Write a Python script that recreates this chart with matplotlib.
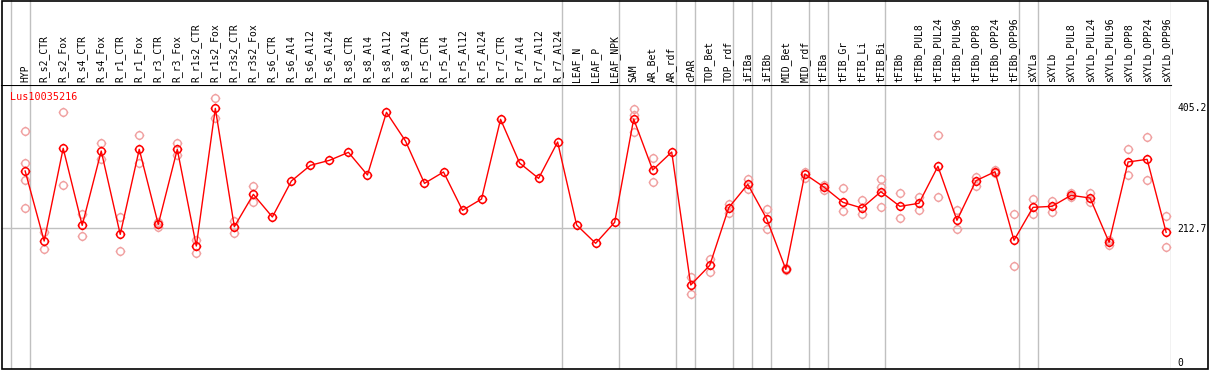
import numpy as np
import matplotlib
matplotlib.use("Agg")
import matplotlib.pyplot as plt
from matplotlib.path import Path
from matplotlib.patches import Rectangle

labels = ["HYP", "R_s2_CTR", "R_s2_Fox", "R_s4_CTR", "R_s4_Fox", "R_r1_CTR", "R_r1_Fox",
          "R_r3_CTR", "R_r3_Fox", "R_r1s2_CTR", "R_r1s2_Fox", "R_r3s2_CTR", "R_r3s2_Fox",
          "R_s6_CTR", "R_s6_Al4", "R_s6_Al12", "R_s6_Al24", "R_s8_CTR", "R_s8_Al4",
          "R_s8_Al12", "R_s8_Al24", "R_r5_CTR", "R_r5_Al4", "R_r5_Al12", "R_r5_Al24",
          "R_r7_CTR", "R_r7_Al4", "R_r7_Al12", "R_r7_Al24", "LEAF_N", "LEAF_P", "LEAF_NPK",
          "SAM", "AR_Bet", "AR_rdf", "cPAR", "TOP_Bet", "TOP_rdf", "iFIBa", "iFIBb",
          "MID_Bet", "MID_rdf", "tFIBa", "tFIB_Gr", "tFIB_Li", "tFIB_Bi", "tFIBb",
          "tFIBb_PUL8", "tFIBb_PUL24", "tFIBb_PUL96", "tFIBb_OPP8", "tFIBb_OPP24",
          "tFIBb_OPP96", "sXYLa", "sXYLb", "sXYLb_PUL8", "sXYLb_PUL24", "sXYLb_PUL96",
          "sXYLb_OPP8", "sXYLb_OPP24", "sXYLb_OPP96"]

mean_vals = [303.2, 192.0, 339.2, 216.9, 334.9, 202.6, 337.6, 218.5, 337.6, 184.1,
             402.6, 214.8, 266.1, 230.2, 287.3, 312.2, 320.1, 332.8, 296.8, 396.3,
             350.8, 283.6, 301.6, 240.7, 258.7, 385.2, 315.9, 291.5, 349.2, 217.5,
             188.4, 221.7, 385.7, 304.8, 333.3, 122.2, 153.4, 245.0, 282.0, 227.0,
             147.1, 298.4, 277.8, 253.5, 244.4, 270.3, 247.1, 251.9, 310.6, 224.9,
             287.8, 302.0, 193.2, 245.5, 247.1, 264.6, 260.3, 190.0, 317.5, 321.7, 205.9]

# replicate values per sample (empty where only the mean is drawn)
rep_vals = [
    [366.0, 315.4, 288.4, 244.0], [206.9, 178.9], [396.3, 280.4], [234.4, 200.0],
    [347.6, 322.2], [230.7, 175.7], [359.8, 315.4], [222.7, 214.8], [347.6, 328.6],
    [193.7, 172.5], [418.5, 386.8], [223.8, 204.2], [278.8, 254.5],
    [], [], [], [], [], [], [], [], [], [], [], [], [], [], [], [], [], [], [],
    [401.6, 392.0, 365.6], [323.3, 285.2], [], [134.4, 107.4], [163.5, 142.3],
    [250.3, 237.0], [290.0, 275.1], [242.9, 210.6], [148.5, 146.0], [302.0, 291.5],
    [281.5, 273.0], [275.7, 239.7], [256.6, 234.4], [290.0, 278.3, 245.5],
    [267.7, 228.1], [262.4, 241.8], [359.8, 261.4], [241.3, 210.6], [293.1, 279.4],
    [304.8, 300.0], [234.4, 151.9], [258.7, 234.9], [256.0, 237.6], [268.8, 262.0],
    [268.8, 253.5], [193.7, 185.2], [337.6, 296.8], [356.7, 288.4], [231.3, 182.1]]

group_breaks = [0, 1, 29, 32, 35, 36, 38, 39, 40, 42, 43, 46, 53, 54, 61]
ytick_vals = [0, 212.7, 405.2]
gene = "Lus10035216"

# circle with four short ticks, like the original marker
theta = np.linspace(0, 2 * np.pi, 49)
verts = [(np.cos(t), np.sin(t)) for t in theta]
codes = [Path.MOVETO] + [Path.LINETO] * (len(theta) - 1)
for dx, dy in [(1, 0), (-1, 0), (0, 1), (0, -1)]:
    verts += [(dx, dy), (dx * 1.3, dy * 1.3)]
    codes += [Path.MOVETO, Path.LINETO]
tick_circle = Path(verts, codes)

W, H = 1209, 370
fig = plt.figure(figsize=(W / 100, H / 100), dpi=100)
mono = "DejaVu Sans Mono"

x_left, x_right = 1.0, 1170.7
xlim = (-0.51, 61.0)
ax = fig.add_axes([x_left / W, (H - 369) / H, (x_right - x_left) / W, (369 - 85) / H])
hax = fig.add_axes([x_left / W, (H - 85) / H, (x_right - x_left) / W, 85 / H], sharex=ax)

x = np.arange(len(labels)) + 0.76

for a in (ax, hax):
    for b in group_breaks:
        a.axvline(b, color="#c0c0c0", lw=1, zorder=0)
    for s in a.spines.values():
        s.set_visible(False)
ax.spines["top"].set_visible(True)
ax.spines["top"].set_color("black")
ax.axhline(212.7, color="#c0c0c0", lw=1, zorder=0)

for i, reps in enumerate(rep_vals):
    if reps:
        ax.plot([x[i]] * len(reps), reps, ls="none", marker=tick_circle, ms=7,
                mec="#f0a0a0", mfc="none", mew=1, zorder=2)

ax.plot(x, mean_vals, color="#ff0000", lw=1, marker=tick_circle, ms=7,
        mec="#ff0000", mfc="none", mew=1.1, zorder=3)

ax.set_xlim(*xlim)
ax.set_ylim(-11.1, 439.7)
ax.set_xticks([])
ax.yaxis.tick_right()
ax.set_yticks(ytick_vals, ["0", "212.7", "405.2"])
ax.tick_params(axis="y", length=0, pad=5, labelsize=7)
for t in ax.get_yticklabels():
    t.set_family(mono)
ax.text(0.0077, 0.958, gene, transform=ax.transAxes, color="#ff0000",
        fontsize=7.3, family=mono, ha="left", va="center")

hax.set_ylim(0, 1)
hax.set_yticks([])
hax.tick_params(axis="x", bottom=False, labelbottom=False)
for xi, lab in zip(x, labels):
    hax.text(xi, 0.03, lab, rotation=90, ha="center", va="bottom",
             fontsize=7, family=mono, color="black")

fig.patches.append(Rectangle((1.5 / W, 1.0 / H), 1206.0 / W, 368.5 / H,
                             transform=fig.transFigure, fill=False,
                             edgecolor="black", lw=1.2))

fig.savefig("out.png", dpi=100)
